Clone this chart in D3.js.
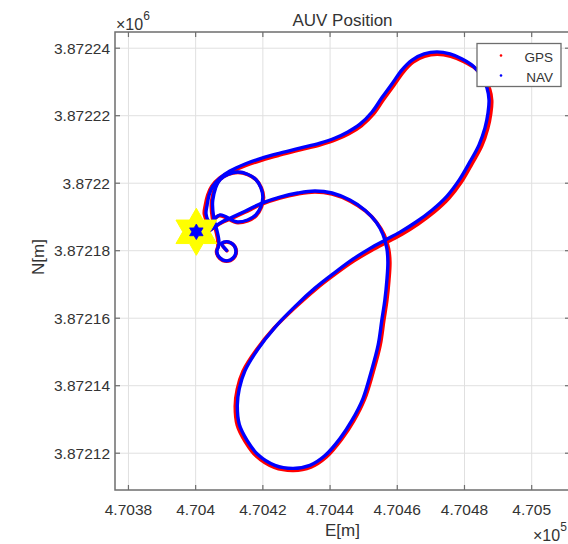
<!DOCTYPE html>
<html>
<head>
<meta charset="utf-8">
<script src="https://cdn.jsdelivr.net/npm/d3@7"></script>
<style>
body { margin: 0; background: #fff; }
text { font-family: "Liberation Sans", Arial, sans-serif; fill: #333; }
</style>
</head>
<body>
<script>
// NAV track (E, N in metres)
var navE = [470409.2, 470407.8, 470409.2, 470411.2, 470412.0, 470411.2, 470409.2, 470407.2, 470406.3, 470406.8,
	470406.9, 470406.3, 470405.4, 470405.1, 470407.3, 470412.6, 470417.9, 470420.0, 470417.9, 470412.6,
	470407.3, 470404.3, 470403.1, 470403.4, 470404.0, 470405.1, 470407.2,
	470410.2, 470414.7, 470419.7, 470425.1, 470431.0, 470437.0, 470441.5, 470445.3, 470448.9, 470452.5,
	470455.4, 470458.4, 470461.4, 470464.4, 470468.0, 470471.8, 470475.7, 470479.3, 470482.8, 470485.2,
	470486.7, 470487.3, 470487.0, 470486.1, 470484.3, 470481.6, 470478.4, 470474.8, 470470.3, 470465.6,
	470460.8, 470456.3, 470451.9, 470446.8, 470441.5, 470435.5, 470429.6, 470423.6, 470418.5, 470414.7,
	470413.0, 470412.4, 470413.0, 470415.3, 470418.5, 470423.6, 470429.0, 470434.0, 470438.5, 470443.0,
	470446.5, 470449.8, 470452.2, 470454.3, 470455.4, 470456.3, 470456.9, 470457.2, 470456.9, 470455.7,
	470453.7, 470450.4, 470445.9, 470440.6, 470435.5, 470430.4, 470425.1, 470419.7, 470414.7, 470410.8,
	470407.8, 470406.0, 470404.3];
var navN = [3872180.1, 3872182.1, 3872182.7, 3872181.8, 3872179.8, 3872177.9, 3872177.0, 3872177.9, 3872179.8, 3872181.3,
	3872183.1, 3872186.1, 3872189.6, 3872195.0, 3872201.1, 3872203.3, 3872201.1, 3872195.9, 3872190.6, 3872188.5,
	3872190.6, 3872188.5, 3872190.8, 3872193.5, 3872196.5, 3872199.1, 3872201.5,
	3872203.6, 3872205.7, 3872207.4, 3872208.9, 3872210.4, 3872211.9, 3872213.4, 3872215.2, 3872217.5, 3872221.1,
	3872225.3, 3872229.4, 3872233.6, 3872236.5, 3872238.3, 3872238.9, 3872238.3, 3872236.8, 3872234.5, 3872231.5,
	3872228.2, 3872224.7, 3872220.8, 3872216.4, 3872211.3, 3872206.3, 3872200.9, 3872196.2, 3872192.0, 3872188.5,
	3872185.5, 3872183.1, 3872180.7, 3872177.5, 3872173.6, 3872168.9, 3872163.5, 3872157.3, 3872150.8, 3872144.5,
	3872139.2, 3872134.2, 3872128.5, 3872123.8, 3872119.6, 3872116.4, 3872115.5, 3872116.4, 3872119.3, 3872124.4,
	3872129.7, 3872136.2, 3872144.0, 3872152.0, 3872159.4, 3872165.3, 3872171.2, 3872176.6, 3872180.7, 3872184.9,
	3872188.5, 3872192.0, 3872195.0, 3872197.1, 3872197.7, 3872197.1, 3872195.9, 3872194.1, 3872191.7, 3872189.9,
	3872188.5, 3872187.3, 3872186.1];

// GPS track (E, N in metres)
var gpsE = [470409.3, 470407.8, 470409.3, 470411.3, 470412.1, 470411.3, 470409.2, 470407.1, 470406.2, 470406.6,
	470406.6, 470406.0, 470405.0, 470404.8, 470407.2, 470412.6, 470418.0, 470420.2, 470418.0, 470412.6,
	470407.1, 470404.0, 470402.6, 470402.9, 470403.6, 470404.8, 470407.0,
	470410.2, 470414.8, 470419.8, 470425.2, 470431.1, 470437.1, 470441.7, 470445.6, 470449.3, 470453.0,
	470455.9, 470458.9, 470461.9, 470464.7, 470468.1, 470471.9, 470475.9, 470479.7, 470483.4, 470485.9,
	470487.5, 470488.1, 470487.8, 470486.9, 470485.1, 470482.3, 470479.1, 470475.4, 470470.9, 470466.2,
	470461.4, 470456.8, 470452.3, 470447.1, 470441.7, 470435.6, 470429.5, 470423.3, 470418.0, 470414.1,
	470412.4, 470411.8, 470412.4, 470414.8, 470418.1, 470423.4, 470429.1, 470434.3, 470438.9, 470443.4,
	470447.0, 470450.3, 470452.8, 470454.9, 470456.0, 470456.9, 470457.5, 470457.8, 470457.4, 470456.1,
	470454.0, 470450.6, 470446.0, 470440.6, 470435.5, 470430.4, 470425.1, 470419.7, 470414.7, 470410.8,
	470407.6, 470405.7, 470404.0];
var gpsN = [3872180.0, 3872182.0, 3872182.6, 3872181.7, 3872179.7, 3872177.8, 3872176.9, 3872177.8, 3872179.7, 3872181.2,
	3872183.0, 3872186.0, 3872189.6, 3872195.0, 3872201.1, 3872203.2, 3872201.0, 3872195.8, 3872190.4, 3872188.3,
	3872190.4, 3872188.4, 3872190.8, 3872193.5, 3872196.5, 3872199.1, 3872201.4,
	3872203.2, 3872205.2, 3872206.9, 3872208.4, 3872209.9, 3872211.4, 3872212.9, 3872214.7, 3872217.0, 3872220.6,
	3872224.8, 3872228.9, 3872233.1, 3872235.9, 3872237.6, 3872238.2, 3872237.6, 3872236.1, 3872233.9, 3872231.0,
	3872227.8, 3872224.5, 3872220.6, 3872216.2, 3872211.0, 3872205.9, 3872200.4, 3872195.6, 3872191.4, 3872187.9,
	3872184.9, 3872182.5, 3872180.1, 3872177.0, 3872173.2, 3872168.5, 3872163.1, 3872157.0, 3872150.5, 3872144.3,
	3872139.0, 3872134.0, 3872128.3, 3872123.4, 3872119.1, 3872115.8, 3872114.9, 3872115.9, 3872118.9, 3872124.1,
	3872129.5, 3872136.1, 3872144.0, 3872152.0, 3872159.4, 3872165.3, 3872171.2, 3872176.6, 3872180.6, 3872184.7,
	3872188.2, 3872191.7, 3872194.7, 3872196.8, 3872197.4, 3872196.8, 3872195.6, 3872193.8, 3872191.4, 3872189.6,
	3872188.2, 3872187.0, 3872185.9];

var targetE = [470400.2], targetN = [3872185.6];

var xTicks = [470380, 470400, 470420, 470440, 470460, 470480, 470500];
var xTickLabels = ['4.7038', '4.704', '4.7042', '4.7044', '4.7046', '4.7048', '4.705'];
var yTicks = [3872120, 3872140, 3872160, 3872180, 3872200, 3872220, 3872240];
var yTickLabels = ['3.87212', '3.87214', '3.87216', '3.87218', '3.8722', '3.87222', '3.87224'];
var legendNames = ['GPS', 'NAV'];
var legendColors = ['#ff0000', '#0000ff'];

var W = 568, H = 544;
var padL = 115, padR = 570, padT = 32, padB = 490;
var axisColor = '#6e6e6e';

var x = d3.scaleLinear().domain([470376.0, 470511.4]).range([padL, padR]);
var y = d3.scaleLinear().domain([3872109.1, 3872244.8]).range([padB, padT]);

var svg = d3.select('body').append('svg')
	.attr('width', W).attr('height', H);

svg.append('defs').append('clipPath').attr('id', 'plotclip')
	.append('rect').attr('x', padL).attr('y', padT)
	.attr('width', padR - padL).attr('height', padB - padT);

// grid
var grid = svg.append('g');
grid.selectAll('.gx').data(xTicks).enter().append('line')
	.attr('x1', d => x(d)).attr('x2', d => x(d))
	.attr('y1', padT).attr('y2', padB)
	.attr('stroke', '#e0e0e0').attr('stroke-width', 1);
grid.selectAll('.gy').data(yTicks).enter().append('line')
	.attr('x1', padL).attr('x2', padR)
	.attr('y1', d => y(d)).attr('y2', d => y(d))
	.attr('stroke', '#e0e0e0').attr('stroke-width', 1);

// tracks
var line = d3.line()
	.x(d => x(d[0])).y(d => y(d[1]))
	.curve(d3.curveCatmullRom.alpha(0.5));

var gps = gpsE.map((e, i) => [e, gpsN[i]]);
var nav = navE.map((e, i) => [e, navN[i]]);

var plot = svg.append('g').attr('clip-path', 'url(#plotclip)');
plot.append('path').datum(gps)
	.attr('d', line).attr('fill', 'none')
	.attr('stroke', legendColors[0]).attr('stroke-width', 3.6)
	.attr('stroke-linejoin', 'round').attr('stroke-linecap', 'round');
plot.append('path').datum(nav)
	.attr('d', line).attr('fill', 'none')
	.attr('stroke', legendColors[1]).attr('stroke-width', 3.4)
	.attr('stroke-linejoin', 'round').attr('stroke-linecap', 'round');

// hexagram markers for the target
function hexagram(R) {
	var pts = [];
	for (var k = 0; k < 12; k++) {
		var a = (-90 + k * 30) * Math.PI / 180;
		var r = k % 2 == 0 ? R : R / Math.sqrt(3);
		pts.push([r * Math.cos(a), r * Math.sin(a)]);
	}
	return 'M' + pts.map(p => p[0].toFixed(2) + ',' + p[1].toFixed(2)).join('L') + 'Z';
}
var target = targetE.map((e, i) => [e, targetN[i]]);
plot.selectAll('.bigstar').data(target).enter().append('path')
	.attr('transform', d => 'translate(' + x(d[0]) + ',' + y(d[1]) + ')')
	.attr('d', hexagram(23.5)).attr('fill', '#ffff00').attr('stroke', '#ffff00').attr('stroke-width', 1);
plot.selectAll('.smallstar').data(target).enter().append('path')
	.attr('transform', d => 'translate(' + x(d[0]) + ',' + y(d[1]) + ')')
	.attr('d', hexagram(7.8)).attr('fill', '#0000ff').attr('stroke', '#0000ff').attr('stroke-width', 0.8);

// axes box
svg.append('rect').attr('x', padL).attr('y', padT)
	.attr('width', padR - padL).attr('height', padB - padT)
	.attr('fill', 'none').attr('stroke', axisColor).attr('stroke-width', 1.5);

var tl = 5;
var ticks = svg.append('g').attr('stroke', axisColor).attr('stroke-width', 1.2);
xTicks.forEach(function(t) {
	ticks.append('line').attr('x1', x(t)).attr('x2', x(t)).attr('y1', padB).attr('y2', padB - tl);
	ticks.append('line').attr('x1', x(t)).attr('x2', x(t)).attr('y1', padT).attr('y2', padT + tl);
});
yTicks.forEach(function(t) {
	ticks.append('line').attr('x1', padL).attr('x2', padL + tl).attr('y1', y(t)).attr('y2', y(t));
	ticks.append('line').attr('x1', padR).attr('x2', padR - tl).attr('y1', y(t)).attr('y2', y(t));
});

// tick labels
svg.selectAll('.xl').data(xTicks).enter().append('text')
	.attr('x', d => x(d)).attr('y', padB + 25)
	.attr('text-anchor', 'middle').attr('font-size', '15.5px')
	.text((d, i) => xTickLabels[i]);
svg.selectAll('.yl').data(yTicks).enter().append('text')
	.attr('x', padL - 5).attr('y', d => y(d) + 5.5)
	.attr('text-anchor', 'end').attr('font-size', '15.5px')
	.text((d, i) => yTickLabels[i]);

// exponent labels
var e6 = svg.append('text').attr('x', padL + 1).attr('y', 30).attr('font-size', '16px');
e6.append('tspan').text('\u00d710');
e6.append('tspan').attr('dy', -10).attr('font-size', '12px').text('6');
var e5 = svg.append('text').attr('x', 533).attr('y', 541).attr('font-size', '16px');
e5.append('tspan').text('\u00d710');
e5.append('tspan').attr('dy', -10).attr('font-size', '12px').text('5');

// title and axis labels
svg.append('text').attr('x', (padL + padR) / 2).attr('y', 26)
	.attr('text-anchor', 'middle').attr('font-size', '17px').text('AUV Position');
svg.append('text').attr('x', (padL + padR) / 2).attr('y', 536)
	.attr('text-anchor', 'middle').attr('font-size', '17px').text('E[m]');
svg.append('text').attr('transform', 'translate(44,257) rotate(-90)')
	.attr('text-anchor', 'middle').attr('font-size', '17px').text('N[m]');

// legend
var lg = svg.append('g');
lg.append('rect').attr('x', 477).attr('y', 43.5).attr('width', 84).attr('height', 43)
	.attr('fill', '#fff').attr('stroke', axisColor).attr('stroke-width', 1.3);
legendNames.forEach(function(n, i) {
	lg.append('circle').attr('cx', 501).attr('cy', 55.5 + i * 20).attr('r', 1.3)
		.attr('fill', legendColors[i]);
	lg.append('text').attr('x', 553).attr('y', 62 + i * 20)
		.attr('text-anchor', 'end').attr('font-size', '13.5px').text(n);
});
</script>
</body>
</html>
